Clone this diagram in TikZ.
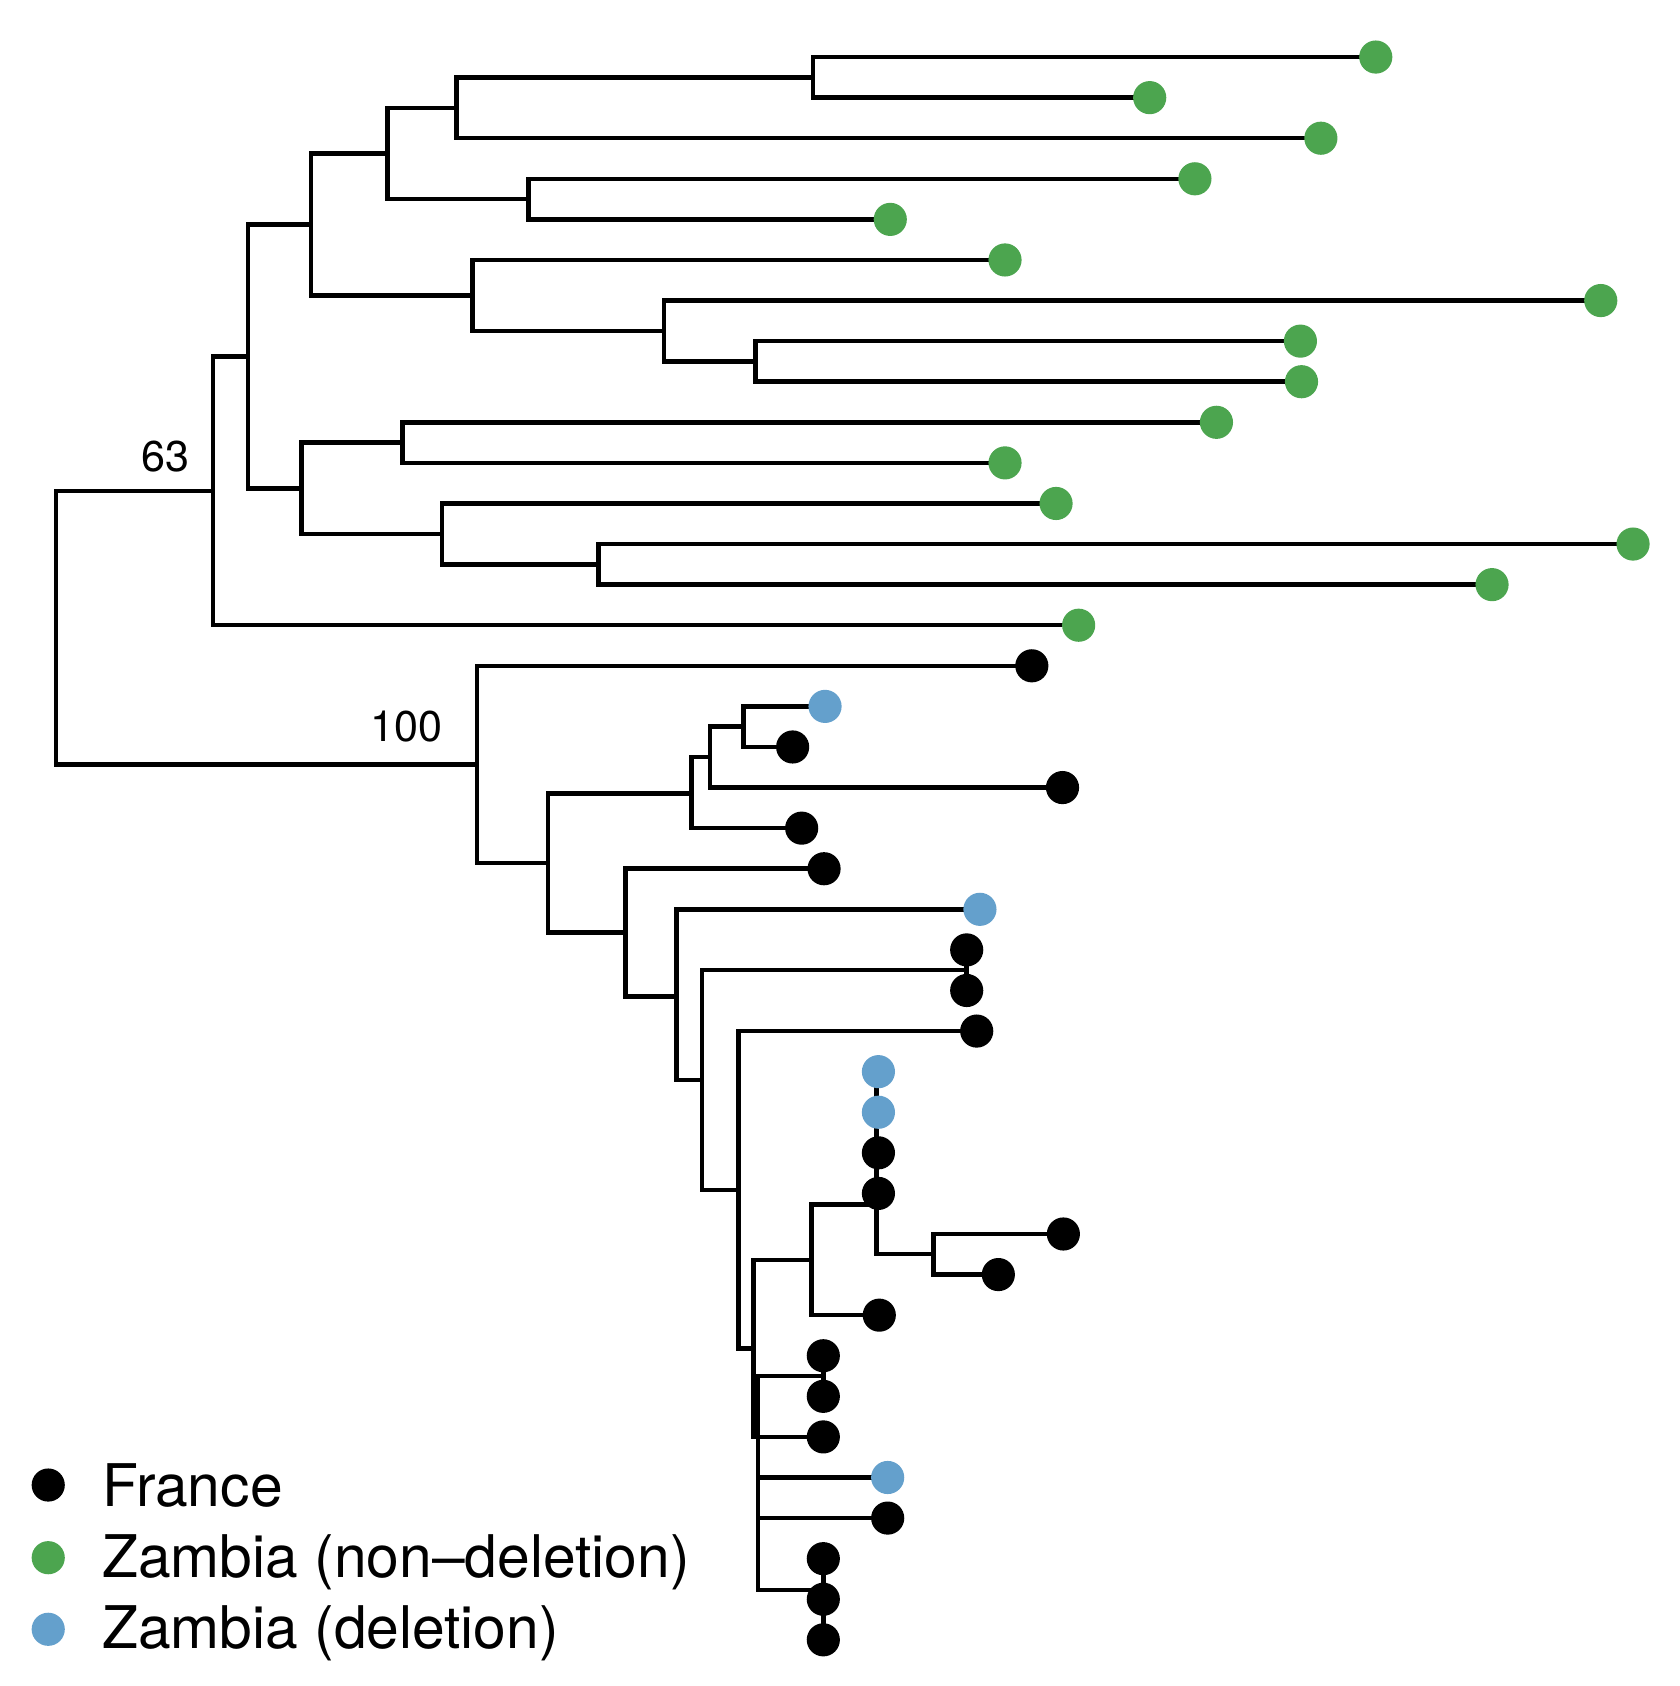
\documentclass[tikz,border=0pt]{standalone}
\usepackage{fontspec}
\setmainfont{TeX Gyre Heros}
\definecolor{zgreen}{RGB}{76,165,79}
\definecolor{zblue}{RGB}{100,160,204}
\tikzset{
  branch/.style={line width=2.1pt, line join=miter},
  tipdot/.style={circle, inner sep=0pt, minimum size=15.4pt},
  fr/.style={tipdot, fill=black},
  zg/.style={tipdot, fill=zgreen},
  zb/.style={tipdot, fill=zblue},
  supp/.style={font=\fontsize{20}{24}\selectfont, inner sep=0pt, anchor=base east},
  legtext/.style={font=\fontsize{27.3}{32}\selectfont, inner sep=0pt, anchor=base west}
}
\begin{document}
\begin{tikzpicture}[x=0.5pt, y=-0.5pt]
\useasboundingbox (0,0) rectangle (1560.6,1566.2);
% leaves
\coordinate (l1) at (1278,53.0);
\coordinate (l2) at (1068,90.7);
\coordinate (l3) at (1227,128.4);
\coordinate (l4) at (1110,166.1);
\coordinate (l5) at (827,203.8);
\coordinate (l6) at (933.6,241.5);
\coordinate (l7) at (1487,279.2);
\coordinate (l8) at (1208,316.9);
\coordinate (l9) at (1209,354.6);
\coordinate (l10) at (1130,392.3);
\coordinate (l11) at (933.6,430.0);
\coordinate (l12) at (981,467.7);
\coordinate (l13) at (1517,505.4);
\coordinate (l14) at (1386,543.1);
\coordinate (l15) at (1002,580.8);
\coordinate (l16) at (958.5,618.5);
\coordinate (l17) at (766.4,656.2);
\coordinate (l18) at (736.3,693.9);
\coordinate (l19) at (987,731.6);
\coordinate (l20) at (744.7,769.3);
\coordinate (l21) at (765.5,807.0);
\coordinate (l22) at (910.3,844.7);
\coordinate (l23) at (898,882.4);
\coordinate (l24) at (898,920.1);
\coordinate (l25) at (907.3,957.8);
\coordinate (l26) at (816,995.5);
\coordinate (l27) at (816,1033.2);
\coordinate (l28) at (816,1070.9);
\coordinate (l29) at (816,1108.6);
\coordinate (l30) at (987.8,1146.3);
\coordinate (l31) at (927.4,1184.0);
\coordinate (l32) at (816.8,1221.7);
\coordinate (l33) at (764.8,1259.4);
\coordinate (l34) at (764.8,1297.1);
\coordinate (l35) at (764.8,1334.8);
\coordinate (l36) at (824.6,1372.5);
\coordinate (l37) at (824.6,1410.2);
\coordinate (l38) at (764.8,1447.9);
\coordinate (l39) at (764.8,1485.6);
\coordinate (l40) at (764.8,1523.3);
% internal nodes, Zambia clade
\coordinate (A) at (755,71.9);
\coordinate (B) at (424,100.2);
\coordinate (C) at (491,185.0);
\coordinate (D) at (360,142.6);
\coordinate (E) at (702,335.8);
\coordinate (F) at (617,307.5);
\coordinate (G) at (439,274.5);
\coordinate (H) at (289,208.5);
\coordinate (I) at (374,411.2);
\coordinate (J) at (556,524.3);
\coordinate (K) at (410.5,496.0);
\coordinate (L) at (280,453.6);
\coordinate (M) at (230.5,331.0);
\coordinate (N) at (198,455.9);
\coordinate (root) at (52,583.0);
% internal nodes, France clade
\coordinate (P) at (443,710.0);
\coordinate (Q) at (509,801.7);
\coordinate (R) at (642.5,737.0);
\coordinate (S) at (659.5,703.3);
\coordinate (T) at (690.5,675.05);
\coordinate (U) at (581,866.4);
\coordinate (V) at (628.6,925.8);
\coordinate (W) at (652,1003.3);
\coordinate (X) at (898,901.2);
\coordinate (Y) at (686,1105.4);
\coordinate (Z) at (700,1252.5);
\coordinate (AA) at (754,1170.5);
\coordinate (CC) at (814,1119.0);
\coordinate (DD) at (867,1165.1);
\coordinate (HH) at (704,1334.8);
\coordinate (EE) at (764.8,1278.2);
\coordinate (GG) at (764.8,1476.8);
% branches
\draw[branch] (root) |- (N);
\draw[branch] (root) |- (P);
\draw[branch] (N) |- (M);
\draw[branch] (N) |- (l15);
\draw[branch] (M) |- (H);
\draw[branch] (M) |- (L);
\draw[branch] (H) |- (D);
\draw[branch] (H) |- (G);
\draw[branch] (D) |- (B);
\draw[branch] (D) |- (C);
\draw[branch] (B) |- (A);
\draw[branch] (B) |- (l3);
\draw[branch] (A) |- (l1);
\draw[branch] (A) |- (l2);
\draw[branch] (C) |- (l4);
\draw[branch] (C) |- (l5);
\draw[branch] (G) |- (l6);
\draw[branch] (G) |- (F);
\draw[branch] (F) |- (l7);
\draw[branch] (F) |- (E);
\draw[branch] (E) |- (l8);
\draw[branch] (E) |- (l9);
\draw[branch] (L) |- (I);
\draw[branch] (L) |- (K);
\draw[branch] (I) |- (l10);
\draw[branch] (I) |- (l11);
\draw[branch] (K) |- (l12);
\draw[branch] (K) |- (J);
\draw[branch] (J) |- (l13);
\draw[branch] (J) |- (l14);
\draw[branch] (P) |- (l16);
\draw[branch] (P) |- (Q);
\draw[branch] (Q) |- (R);
\draw[branch] (Q) |- (U);
\draw[branch] (R) |- (S);
\draw[branch] (R) |- (l20);
\draw[branch] (S) |- (T);
\draw[branch] (S) |- (l19);
\draw[branch] (T) |- (l17);
\draw[branch] (T) |- (l18);
\draw[branch] (U) |- (l21);
\draw[branch] (U) |- (V);
\draw[branch] (V) |- (l22);
\draw[branch] (V) |- (W);
\draw[branch] (W) |- (X);
\draw[branch] (W) |- (Y);
\draw[branch] (X) |- (l23);
\draw[branch] (X) |- (l24);
\draw[branch] (Y) |- (l25);
\draw[branch] (Y) |- (Z);
\draw[branch] (Z) |- (AA);
\draw[branch] (Z) |- (HH);
\draw[branch] (AA) |- (CC);
\draw[branch] (AA) |- (l32);
\draw[branch] (CC) |- (l26);
\draw[branch] (CC) |- (l27);
\draw[branch] (CC) |- (l28);
\draw[branch] (CC) |- (l29);
\draw[branch] (CC) |- (DD);
\draw[branch] (DD) |- (l30);
\draw[branch] (DD) |- (l31);
\draw[branch] (HH) |- (EE);
\draw[branch] (HH) |- (l35);
\draw[branch] (HH) |- (l36);
\draw[branch] (HH) |- (l37);
\draw[branch] (HH) |- (GG);
\draw[branch] (EE) |- (l33);
\draw[branch] (EE) |- (l34);
\draw[branch] (GG) |- (l38);
\draw[branch] (GG) |- (l39);
\draw[branch] (GG) |- (l40);
% tip dots
\foreach \i in {1,...,15} { \node[zg] (t\i) at (l\i) {}; }
\foreach \i in {16,18,19,20,21,23,24,25,28,29,30,31,32,33,34,35,37,38,39,40} { \node[fr] (t\i) at (l\i) {}; }
\foreach \i in {17,22,26,27,36} { \node[zb] (t\i) at (l\i) {}; }
% support values
\node[supp] (s63) at (176,438) {63};
\node[supp] (s100) at (411,689) {100};
% legend
\node[fr] (kfr) at (44.8,1379.5) {};
\node[zg] (kzg) at (44.8,1447) {};
\node[zb] (kzb) at (44.8,1513.5) {};
\node[legtext] (tfr) at (94.5,1399.5) {France};
\node[legtext] (tzg) at (94.5,1465) {Zambia (non–deletion)};
\node[legtext] (tzb) at (94.5,1531.5) {Zambia (deletion)};
\end{tikzpicture}
\end{document}
